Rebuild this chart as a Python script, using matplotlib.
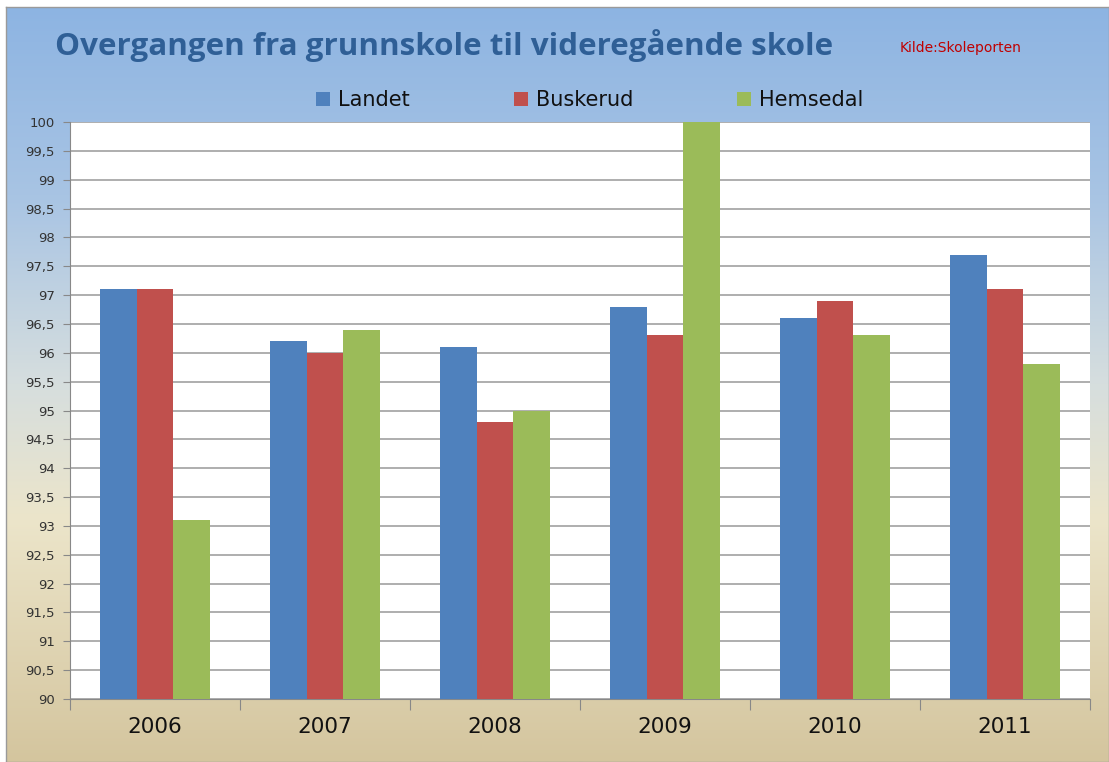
import numpy as np
import matplotlib.pyplot as plt
from matplotlib.colors import LinearSegmentedColormap

# data
years = ['2006', '2007', '2008', '2009', '2010', '2011']
landet = [97.1, 96.2, 96.1, 96.8, 96.6, 97.7]
buskerud = [97.1, 96.0, 94.8, 96.3, 96.9, 97.1]
hemsedal = [93.1, 96.4, 95.0, 100.0, 96.3, 95.8]
series_names = ['Landet', 'Buskerud', 'Hemsedal']
colors = ['#4F81BD', '#C0504D', '#9BBB59']

fig = plt.figure(figsize=(11.09, 7.62), dpi=100)

# gradient background (blue top -> tan bottom)
bg = fig.add_axes([0.005, 0.0, 0.995, 0.991])
cmap = LinearSegmentedColormap.from_list('bg', [
    (0.0, (141/255, 180/255, 226/255)),
    (0.25, (168/255, 196/255, 228/255)),
    (0.5, (214/255, 222/255, 222/255)),
    (0.68, (236/255, 229/255, 202/255)),
    (1.0, (212/255, 197/255, 158/255)),
])
grad = np.linspace(0, 1, 256).reshape(-1, 1)
bg.imshow(grad, aspect='auto', cmap=cmap, extent=[0, 1, 0, 1])
bg.set_xticks([])
bg.set_yticks([])
for s in bg.spines.values():
    s.set_color('#9a9a9a')
    s.set_linewidth(1)

ax = fig.add_axes([70/1109, 1 - 699/762, (1090 - 70)/1109, (699 - 122)/762])
ax.set_facecolor('white')

x = np.arange(len(years))
w = 0.217
for i, (vals, name) in enumerate(zip([landet, buskerud, hemsedal], series_names)):
    ax.bar(x + (i - 1) * w, np.array(vals) - 90, bottom=90, width=w,
           color=colors[i], label=name, zorder=3)

ax.set_ylim(90, 100)
ax.set_xlim(-0.5, len(years) - 0.5)
yt = np.arange(90, 100.01, 0.5)
ax.set_yticks(yt)
ax.set_yticklabels([('%g' % v).replace('.', ',') for v in yt],
                   fontsize=9.5, color='#333333', family='DejaVu Sans')
ax.yaxis.grid(True, color='#999999', linewidth=1.1, zorder=1)
ax.tick_params(axis='y', length=5, color='#888888', pad=6)

ax.set_xticks(np.arange(-0.5, len(years), 1))
ax.set_xticklabels([])
ax.set_xticks(x, minor=True)
ax.set_xticklabels(years, minor=True, fontsize=15.5, color='#111111')
ax.tick_params(axis='x', which='major', length=8, color='#888888', direction='out')
ax.tick_params(axis='x', which='minor', length=0, pad=13)

ax.spines['top'].set_visible(False)
ax.spines['right'].set_visible(False)
ax.spines['left'].set_color('#888888')
ax.spines['bottom'].set_color('#888888')

fig.text(55/1109, 1 - 45/762, 'Overgangen fra grunnskole til videregående skole',
         fontsize=22.6, fontweight='bold', color='#2F5F96', va='center', ha='left',
         family='Open Sans')
fig.text(900/1109, 1 - 48/762, 'Kilde:Skoleporten', fontsize=10, color='#C00000',
         va='center', ha='left')

leg = fig.legend(loc='center', bbox_to_anchor=(0.532, 1 - 100/762), ncol=3,
                 frameon=False, fontsize=15, handlelength=0.65, handleheight=0.65,
                 handletextpad=0.4, columnspacing=5.0)
for t in leg.get_texts():
    t.set_color('#111111')

fig.savefig('out.png', dpi=100)
